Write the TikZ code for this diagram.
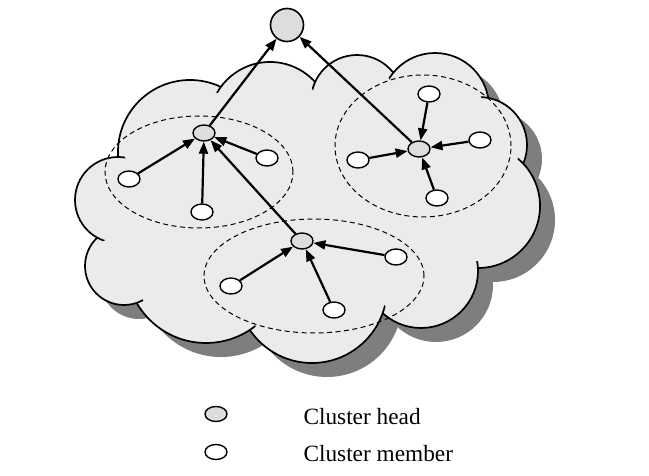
\documentclass[tikz,border=0pt]{standalone}
\usepackage{fontspec}
\setmainfont{Liberation Serif}
\usetikzlibrary{shapes.geometric,arrows.meta}
\definecolor{cloudfill}{HTML}{EBEBEB}
\definecolor{shadowc}{HTML}{7E7E81}
\definecolor{headfill}{HTML}{DCDDDF}
\def\lobelist{190/152/72, 270/123/61, 357/101/46, 435/107/54, 479/145/48, 478/206/62, 421/271/57, 312/288/75, 206/263/80, 124/266/39, 118/200/43}
\begin{document}
\begin{tikzpicture}[x=1pt,y=-1pt,
  member/.style={ellipse,draw,line width=1.4pt,fill=white,minimum width=22pt,minimum height=16pt,inner sep=0pt},
  head/.style={member,fill=headfill},
  sinknode/.style={circle,draw,line width=1.6pt,fill=headfill,minimum size=33pt,inner sep=0pt},
  arr/.style={line width=2.2pt,-{Triangle[length=12pt,width=9pt]}},
  region/.style={ellipse,draw,dash pattern=on 5pt off 3.5pt,line width=1pt,inner sep=0pt},
  legendtext/.style={anchor=base west,font=\fontsize{23.3}{28}\selectfont}
]
\useasboundingbox (0,0) rectangle (649,476);
% shadow
\begin{scope}[shift={(15,14)}]
  \foreach \cx/\cy/\r in \lobelist {\fill[shadowc] (\cx,\cy) circle[radius=\r];}
  \fill[shadowc] (190,152) -- (270,123) -- (357,101) -- (435,107) -- (479,145) -- (478,206) -- (421,271) -- (312,288) -- (206,263) -- (124,266) -- (118,200) -- cycle;
\end{scope}
% cloud outline
\foreach \cx/\cy/\r in \lobelist {\draw[line width=1.7pt,fill=cloudfill] (\cx,\cy) circle[radius=\r];}
% cover interior strokes
\foreach \cx/\cy/\r in \lobelist {\fill[cloudfill] (\cx,\cy) circle[radius=\r-7];}
\fill[cloudfill] (190,152) -- (270,123) -- (357,101) -- (435,107) -- (479,145) -- (478,206) -- (421,271) -- (312,288) -- (206,263) -- (124,266) -- (118,200) -- cycle;
% cluster regions
\node[region,minimum width=188pt,minimum height=112pt] (E1) at (199,172) {};
\node[region,minimum width=176pt,minimum height=142pt] (E2) at (423,146) {};
\node[region,minimum width=220pt,minimum height=114pt] (E3) at (314,276) {};
% nodes
\node[sinknode] (S) at (287,25) {};
\node[head] (H1) at (204,133) {};
\node[head] (H2) at (419,149) {};
\node[head] (H3) at (302,241) {};
\node[member] (a1) at (129,179) {};
\node[member] (a2) at (267,158) {};
\node[member] (a3) at (202,212) {};
\node[member] (b1) at (429,94) {};
\node[member] (b2) at (480,140) {};
\node[member] (b3) at (358,160) {};
\node[member] (b4) at (437,198) {};
\node[member] (c1) at (231,286) {};
\node[member] (c2) at (396,257) {};
\node[member] (c3) at (334,310) {};
% connectors
\draw[arr] (H1) -- (S);
\draw[arr] (H2) -- (S);
\draw[arr] (H3) -- (H1);
\draw[arr] (a1) -- (H1);
\draw[arr] (a2) -- (H1);
\draw[arr] (a3) -- (H1);
\draw[arr] (b1) -- (H2);
\draw[arr] (b2) -- (H2);
\draw[arr] (b3) -- (H2);
\draw[arr] (b4) -- (H2);
\draw[arr] (c1) -- (H3);
\draw[arr] (c2) -- (H3);
\draw[arr] (c3) -- (H3);
% legend
\node[head,minimum height=15pt] (L1) at (216,414) {};
\node[member,minimum height=15pt] (L2) at (216,452) {};
\node[legendtext] (T1) at (300,424) {Cluster head};
\node[legendtext] (T2) at (300,461) {Cluster member};
\end{tikzpicture}
\end{document}
